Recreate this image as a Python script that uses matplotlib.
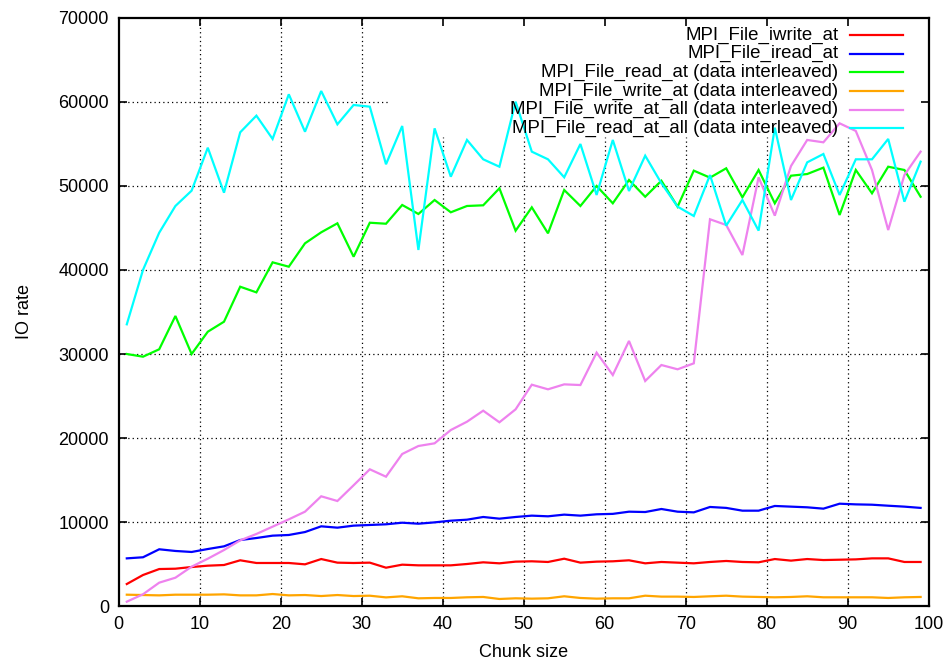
import matplotlib
matplotlib.use("Agg")
import matplotlib.pyplot as plt

plt.rcParams['font.family'] = ['Liberation Sans', 'DejaVu Sans']

chunk_size = [1, 3, 5, 7, 9, 11, 13, 15, 17, 19, 21, 23, 25, 27, 29, 31, 33, 35, 37, 39,
              41, 43, 45, 47, 49, 51, 53, 55, 57, 59, 61, 63, 65, 67, 69, 71, 73, 75, 77, 79,
              81, 83, 85, 87, 89, 91, 93, 95, 97, 99]

iwrite_at = [2650, 3720, 4430, 4470, 4670, 4830, 4910, 5470, 5150, 5150,
             5150, 4990, 5620, 5190, 5150, 5190, 4590, 4950, 4870, 4870,
             4870, 5030, 5230, 5110, 5310, 5350, 5270, 5660, 5190, 5310,
             5350, 5470, 5110, 5270, 5190, 5110, 5270, 5390, 5270, 5230,
             5620, 5430, 5620, 5500, 5540, 5580, 5700, 5700, 5270, 5270]

iread_at = [5700, 5830, 6780, 6580, 6460, 6810, 7130, 7880, 8120, 8400,
            8480, 8830, 9510, 9350, 9590, 9670, 9750, 9940, 9820, 9980,
            10180, 10300, 10620, 10420, 10620, 10780, 10700, 10900, 10780, 10940,
            10990, 11250, 11210, 11570, 11250, 11170, 11810, 11700, 11370, 11370,
            11930, 11850, 11770, 11610, 12200, 12120, 12080, 11960, 11850, 11700]

read_at = [30000, 29680, 30560, 34520, 30000, 32650, 33840, 38000, 37330, 40900,
           40380, 43160, 44470, 45540, 41570, 45610, 45490, 47720, 46650, 48310,
           46850, 47600, 47680, 49700, 44660, 47440, 44350, 49500, 47600, 49980,
           47920, 50690, 48700, 50600, 47520, 51800, 50970, 52080, 48630, 51880,
           47920, 51200, 51400, 52160, 46530, 51880, 49110, 52270, 51880, 48700]

write_at = [1380, 1340, 1300, 1380, 1380, 1380, 1420, 1300, 1300, 1460,
            1300, 1340, 1220, 1340, 1220, 1260, 1060, 1190, 950, 990,
            990, 1070, 1110, 870, 950, 910, 950, 1190, 990, 910,
            950, 950, 1260, 1150, 1150, 1110, 1190, 1260, 1150, 1110,
            1070, 1110, 1190, 1070, 1070, 1070, 1070, 990, 1070, 1110]

write_at_all = [550, 1430, 2810, 3400, 4710, 5660, 6690, 7840, 8600, 9470,
                10340, 11250, 13080, 12520, 14390, 16290, 15410, 18110, 19060, 19380,
                20960, 21950, 23260, 21880, 23420, 26350, 25800, 26390, 26310, 30160,
                27500, 31550, 26790, 28690, 28180, 28890, 46020, 45340, 41770, 51010,
                46450, 52350, 55450, 55170, 57430, 56520, 51880, 44740, 51280, 54060]

read_at_all = [33530, 40000, 44420, 47600, 49420, 54530, 49180, 56360, 58340, 55570,
               60880, 56430, 61270, 57310, 59610, 59410, 52560, 57110, 42370, 56830,
               51080, 55450, 53150, 52270, 60000, 54060, 53150, 51010, 54970, 48910,
               55450, 49380, 53580, 50300, 47520, 46410, 51280, 45260, 48310, 44670,
               56910, 48310, 52790, 53780, 48910, 53150, 53150, 55570, 48110, 52870]

series = [
    ("MPI_File_iwrite_at", iwrite_at, "#ff0000"),
    ("MPI_File_iread_at", iread_at, "#0000ff"),
    ("MPI_File_read_at (data interleaved)", read_at, "#00ff00"),
    ("MPI_File_write_at (data interleaved)", write_at, "#ffa500"),
    ("MPI_File_write_at_all (data interleaved)", write_at_all, "#ee82ee"),
    ("MPI_File_read_at_all (data interleaved)", read_at_all, "#00ffff"),
]

x_ticks = [0, 10, 20, 30, 40, 50, 60, 70, 80, 90, 100]
y_ticks = [0, 10000, 20000, 30000, 40000, 50000, 60000, 70000]

W, H = 946, 663
fig = plt.figure(figsize=(W / 100, H / 100), dpi=100)
ax_left, ax_right, ax_top, ax_bottom = 118.7, 928.7, 17.6, 606.3
ax = fig.add_axes([ax_left / W, 1 - ax_bottom / H,
                   (ax_right - ax_left) / W, (ax_bottom - ax_top) / H])

ax.set_xlim(0, 100)
ax.set_ylim(0, 70000)
ax.set_xticks(x_ticks)
ax.set_yticks(y_ticks)

# dotted grid, kept clear of the key area in the upper right
key_x0, key_y0 = 33.2, 55800
grid_kw = dict(color="black", linewidth=0.9, linestyle=(0, (1, 2.5)), zorder=1)
for xv in x_ticks[1:-1]:
    top = 70000 if xv < key_x0 else key_y0
    ax.vlines(xv, 0, top, **grid_kw)
for yv in y_ticks[1:-1]:
    right = 100 if yv < key_y0 else key_x0
    ax.hlines(yv, 0, right, **grid_kw)

for label, values, color in series:
    ax.plot(chunk_size, values, color=color, linewidth=1.6, zorder=3,
            solid_joinstyle="miter")

for sp in ax.spines.values():
    sp.set_linewidth(1.6)
    sp.set_zorder(4)

ax.tick_params(direction="in", length=6, width=1.2, top=True, right=True,
               labelsize=13, pad=7, colors="black")
ax.set_xlabel("Chunk size", fontsize=13, labelpad=8)
ax.set_ylabel("IO rate", fontsize=13, labelpad=18)

# key: right-aligned labels with line samples on the right
text_x = (838.3 - ax_left) / (ax_right - ax_left)
line_x0 = (850.0 - ax_left) / (ax_right - ax_left)
line_x1 = (903.3 - ax_left) / (ax_right - ax_left)
row0, row_step = 35.0, 18.65
for i, (label, values, color) in enumerate(series):
    yy = (ax_bottom - (row0 + i * row_step)) / (ax_bottom - ax_top)
    ax.text(text_x, yy, label, transform=ax.transAxes, ha="right", va="center",
            fontsize=13.4, zorder=5)
    ax.plot([line_x0, line_x1], [yy, yy], transform=ax.transAxes, color=color,
            linewidth=1.6, zorder=5, clip_on=False)

fig.savefig("out.png", dpi=100)
